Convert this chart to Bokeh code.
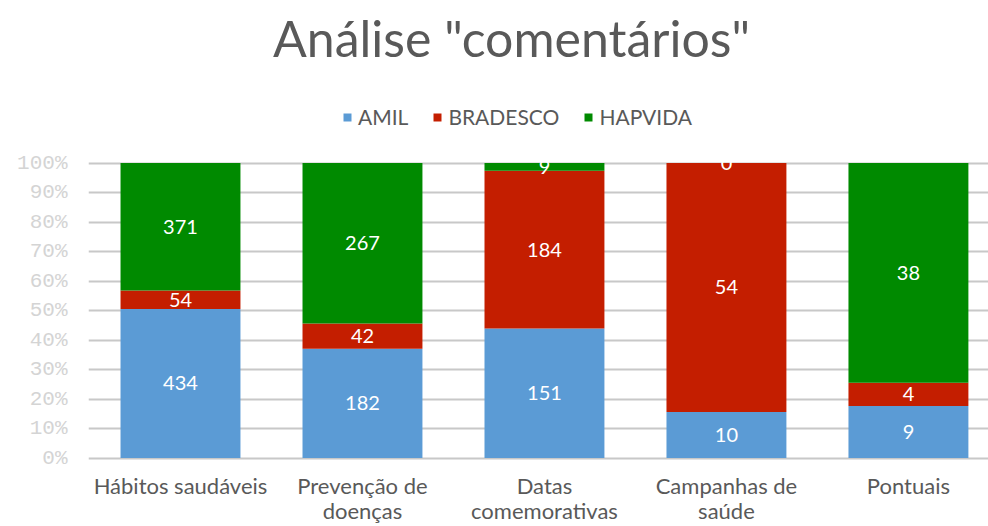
import numpy as np
from bokeh.plotting import figure
from bokeh.models import (Range1d, FixedTicker, NumeralTickFormatter, Legend,
                          LegendItem, ColumnDataSource, Label)
from bokeh.core.properties import value
from bokeh.embed import file_html
from bokeh.resources import INLINE

# ---- data ----
title_text = 'Análise "comentários"'
categories = ["Hábitos saudáveis", "Prevenção de\ndoenças", "Datas\ncomemorativas",
              "Campanhas de\nsaúde", "Pontuais"]
series = ["AMIL", "BRADESCO", "HAPVIDA"]
amil = [434, 182, 151, 10, 9]
bradesco = [54, 42, 184, 54, 4]
hapvida = [371, 267, 9, 0, 38]
colors = ["#5B9BD5", "#C41E00", "#008A00"]
y_ticks = [0, 0.1, 0.2, 0.3, 0.4, 0.5, 0.6, 0.7, 0.8, 0.9, 1.0]

x = list(range(len(categories)))
vals = np.array([amil, bradesco, hapvida], dtype=float)
frac = vals / vals.sum(axis=0)
tops = np.cumsum(frac, axis=0)
bottoms = tops - frac
mids = bottoms + frac / 2

FONT = "Lato"
GREY = "#595959"

p = figure(width=988, height=526, output_backend="svg", toolbar_location=None,
           title=None,
           x_range=Range1d(-0.5055, 4.440), y_range=Range1d(-0.2322, 1.551),
           x_axis_location=None,
           min_border_left=88, min_border_right=0, min_border_top=0,
           min_border_bottom=0)
p.outline_line_color = None
p.background_fill_color = "white"

renderers = []
for i, name in enumerate(series):
    src = ColumnDataSource(dict(x=x, top=tops[i], bottom=bottoms[i], mid=mids[i],
                                lab=[str(int(v)) for v in vals[i]]))
    r = p.vbar(x="x", top="top", bottom="bottom", width=0.659, source=src,
               fill_color=colors[i], line_color=None)
    renderers.append(r)
    p.text(x="x", y="mid", text="lab", source=src, text_color="white",
           text_align="center", text_baseline="middle",
           text_font=value(FONT), text_font_size="20px")

# category labels (below the 0% line)
cat_src = ColumnDataSource(dict(x=x, label=categories))
p.text(x="x", y=-0.0475, text="label", source=cat_src, text_color=GREY,
       text_align="center", text_baseline="top", text_line_height=0.92,
       text_font=value(FONT), text_font_size="22px")

legend = Legend(items=[LegendItem(label=s, renderers=[r]) for s, r in zip(series, renderers)],
                orientation="horizontal", location=(254, 397),
                label_text_font=FONT, label_text_font_size="21px",
                label_text_color=GREY, glyph_width=10, glyph_height=10,
                label_standoff=6, spacing=24, padding=0, margin=0,
                border_line_color=None, background_fill_alpha=0)
p.add_layout(legend)

title = Label(x=423, y=489, x_units="screen", y_units="screen", text=title_text,
              text_align="center", text_baseline="alphabetic",
              text_font=FONT, text_font_size="50px", text_color=GREY)
p.add_layout(title)

p.yaxis.ticker = FixedTicker(ticks=y_ticks)
p.yaxis.formatter = NumeralTickFormatter(format="0%")
p.yaxis.axis_line_color = None
p.yaxis.major_tick_line_color = None
p.yaxis.minor_tick_line_color = None
p.yaxis.major_label_text_font = "Liberation Mono"
p.yaxis.major_label_text_font_size = "21px"
p.yaxis.major_label_text_color = "#d4d4d4"
p.yaxis.major_label_standoff = 15
p.ygrid.grid_line_color = "#c8c8c8"
p.ygrid.grid_line_width = 2
p.ygrid.level = "underlay"
p.xgrid.grid_line_color = None

open("out.html", "w").write(file_html(p, INLINE))
